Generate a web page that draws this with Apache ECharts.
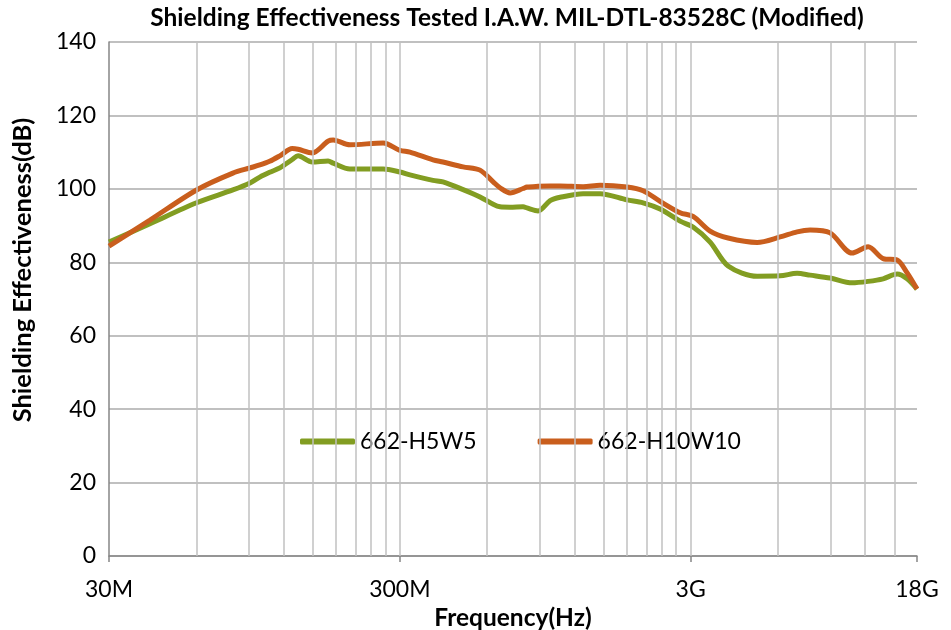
<!DOCTYPE html>
<html>
<head>
<meta charset="utf-8">
<script src="https://cdn.jsdelivr.net/npm/echarts@6/dist/echarts.min.js"></script>
<style>
  html, body { margin: 0; padding: 0; background: #fff; }
  #chart { width: 951px; height: 630px; }
</style>
</head>
<body>
<div id="chart"></div>
<script>
// frequency points in MHz
const freqMHz = [30, 41.5, 60, 80, 91.6, 99, 107, 116, 128, 134, 150, 170, 177, 202, 263, 300, 325, 390, 422, 495, 566, 628, 663, 718, 796, 821, 896, 986, 1067, 1280, 1464, 1813, 2058, 2355, 2759, 3057, 3499, 4034, 5076, 6089, 6967, 7722, 9049, 10767, 12222, 13762, 15382, 16650, 18000];
const h5w5 = [85.5, 90.5, 96.2, 99.7, 101.6, 103.2, 104.5, 105.7, 108, 109, 107.3, 107.6, 107, 105.4, 105.4, 104.6, 103.8, 102.3, 101.9, 99.8, 97.8, 95.8, 95.1, 95, 95.1, 94.8, 94, 96.8, 97.7, 98.7, 98.7, 97, 96.2, 94.5, 91.2, 89.6, 85.5, 79, 76.2, 76.3, 77, 76.5, 75.7, 74.4, 74.8, 75.5, 76.8, 75.5, 72.7];
const h10w10 = [84.4, 91.5, 99.7, 104.3, 105.7, 106.5, 107.5, 109, 111, 110.8, 109.8, 113, 113.3, 112, 112.5, 110.5, 110, 107.9, 107.3, 106, 105.1, 101.9, 100.3, 98.9, 100.1, 100.5, 100.7, 100.8, 100.8, 100.6, 101, 100.5, 99.5, 96.6, 93.5, 92.5, 88.5, 86.6, 85.4, 86.9, 88.3, 88.8, 88, 82.5, 84.2, 81, 80.6, 77.1, 72.7];
const seriesNames = ['662-H5W5', '662-H10W10'];
const tickLabels = ['30M', '300M', '3G', '18G'];
// vertical grid lines (MHz), Excel style log minor grid
const gridMHz = [60, 90, 120, 150, 180, 210, 240, 270, 300, 600, 900, 1200, 1500, 1800, 2100, 2400, 2700, 3000, 6000, 9000, 12000, 15000, 18000];

const fMin = 30, fMax = 18000;
const lx = f => Math.log10(f / fMin);

const font = 'Lato, "Open Sans", sans-serif';
const chart = echarts.init(document.getElementById('chart'));

chart.setOption({
    animation: false,
    textStyle: { fontFamily: font },
    graphic: [
        {
            type: 'text', x: 507, y: 18,
            style: { text: 'Shielding Effectiveness Tested I.A.W. MIL-DTL-83528C (Modified)', font: 'bold 24.5px ' + font, fill: '#000', align: 'center', verticalAlign: 'middle' }
        },
        {
            type: 'text', x: 23, y: 270, rotation: Math.PI / 2,
            style: { text: 'Shielding Effectiveness(dB)', font: 'bold 25.5px ' + font, fill: '#000', align: 'center', verticalAlign: 'middle' }
        }
    ],
    legend: {
        data: seriesNames,
        left: 295,
        top: 425,
        icon: 'roundRect',
        itemWidth: 55,
        itemHeight: 6,
        itemGap: 61,
        textStyle: { fontSize: 23, color: '#000', fontFamily: font }
    },
    grid: { left: 109, right: 34, top: 42, bottom: 74, outerBoundsMode: 'none', containLabel: false },
    xAxis: {
        type: 'value',
        min: 0,
        max: lx(fMax),
        interval: 1,
        name: 'Frequency(Hz)',
        nameLocation: 'middle',
        nameGap: 43,
        nameTextStyle: { fontSize: 24.5, fontWeight: 'bold', color: '#000' },
        axisLine: { lineStyle: { color: '#868686', width: 1.5 } },
        axisTick: { show: true, length: 6, lineStyle: { color: '#868686', width: 1.5 } },
        axisLabel: {
            fontSize: 23, color: '#000', margin: 22,
            showMinLabel: true, showMaxLabel: true,
            formatter: (v, i) => tickLabels[i]
        },
        splitLine: { show: false }
    },
    yAxis: {
        type: 'value',
        min: 0, max: 140, interval: 20,
        axisLine: { show: true, lineStyle: { color: '#868686', width: 1.5 } },
        axisTick: { show: false },
        axisLabel: { fontSize: 23, color: '#000', margin: 13 },
        splitLine: { lineStyle: { color: '#ABABAB', width: 1.5 } }
    },
    series: [
        {
            name: 'grid',
            type: 'line',
            data: [],
            z: 1,
            silent: true,
            markLine: {
                silent: true,
                symbol: ['none', 'none'],
                label: { show: false },
                lineStyle: { color: '#C0C0C0', width: 1.5, type: 'solid' },
                data: gridMHz.map(f => ({ xAxis: lx(f) }))
            }
        },
        {
            name: seriesNames[0],
            type: 'line',
            z: 3,
            smooth: 0.3,
            symbol: 'none',
            lineStyle: { color: '#829D22', width: 5 },
            itemStyle: { color: '#829D22' },
            data: freqMHz.map((f, i) => [lx(f), h5w5[i]])
        },
        {
            name: seriesNames[1],
            type: 'line',
            z: 4,
            smooth: 0.3,
            symbol: 'none',
            lineStyle: { color: '#C95E1D', width: 5 },
            itemStyle: { color: '#C95E1D' },
            data: freqMHz.map((f, i) => [lx(f), h10w10[i]])
        }
    ]
});
</script>
</body>
</html>
